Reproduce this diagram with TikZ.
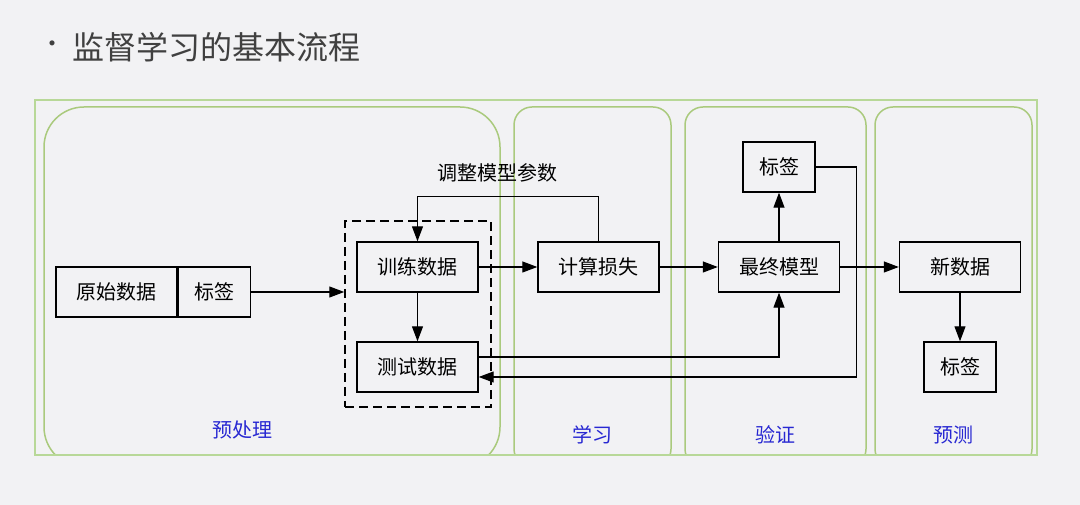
\documentclass[tikz,border=0pt]{standalone}
\usepackage{fontspec}
\usetikzlibrary{arrows.meta, positioning}
\newfontfamily\cjk{Noto Sans CJK SC}
\definecolor{bgcol}{RGB}{242,242,244}
\definecolor{lanecol}{RGB}{170,202,125}
\definecolor{framecol}{RGB}{184,216,152}
\definecolor{lanetext}{RGB}{40,40,210}
\definecolor{titlecol}{RGB}{64,64,64}

\begin{document}
\begin{tikzpicture}[x=1pt, y=1pt, node distance={100pt}, line width=1.2pt,
  >={Triangle[length=15pt,width=11pt]},
  main/.style={draw, line width=1.4pt, minimum width=121pt, minimum height=50pt, inner sep=0pt, font=\cjk\fontsize{20pt}{24pt}\selectfont},
  small/.style={main, minimum width=72pt},
  lane/.style={draw=lanecol, line width=1.5pt},
  lanelabel/.style={text=lanetext, font=\cjk\fontsize{20pt}{24pt}\selectfont}]
		\fill[bgcol] (0,0) rectangle (1080,505);
		
		% lanes
		\begin{scope}
			\clip (35,50) rectangle (1037,405);
			\draw[lane, rounded corners=40pt] (44,398) rectangle (500,38);
			\draw[lane, rounded corners=18pt] (514,398) rectangle (671,38);
			\draw[lane, rounded corners=18pt] (685,398) rectangle (866,38);
			\draw[lane, rounded corners=18pt] (875,398) rectangle (1032,38);
		\end{scope}
		\draw[framecol, line width=1.2pt] (35,50) rectangle (1037,405);
		
		\node[lanelabel] (pre) at (242,75) {预处理};
		\node[lanelabel] (learn) at (592,70) {学习};
		\node[lanelabel] (check) at (775,70) {验证};
		\node[lanelabel] (pred) at (953,70) {预测};
		
		% title
		\node[text=titlecol, font=\cjk\fontsize{24pt}{28pt}\selectfont] (dot) at (53,458) {·};
		\node[anchor=west, inner sep=0pt, text=titlecol, font=\cjk\fontsize{32pt}{36pt}\selectfont] (title) at (72,458) {监督学习的基本流程};
		
		% boxes
		\node[main] (raw) at (116.5,213) {原始数据};
		\node[small] (tag1) [right=0pt of raw] {标签};
		\node[draw, dashed, dash pattern=on 9pt off 5pt, line width=1.5pt, minimum width=146pt, minimum height=186pt] (grp) at (418,191) {};
		\node[main] (train) at (417.5,238) {训练数据};
		\node[main] (test) [below of = train] {测试数据};
		\node[main] (loss) at (598.5,238) {计算损失};
		\node[main] (final) at (779,238) {最终模型};
		\node[small] (tag2) [above of = final] {标签};
		\node[main] (new) at (960,238) {新数据};
		\node[small] (tag3) [below of = new] {标签};
		\node[font=\cjk\fontsize{20pt}{24pt}\selectfont] (adjust) at (497,332) {调整模型参数};
		
		\draw[->] (tag1.east) -- (tag1.east -| grp.west);
		\draw[->] (train) -- (test);
		\draw[->] (train) -- (loss);
		\draw[->] (loss) -- (final);
		\draw[->] (final) -- (new);
		\draw[->] (final) -- (tag2);
		\draw[->] (new) -- (tag3);
		\draw[->] (loss.north) -- ++(0,45) -| (train.north);
		\draw[->] ([yshift=10pt]test.east) -| (final.south);
		\draw[->] (tag2.east) -- ++(41,0) |- ([yshift=-10pt]test.east);
	\end{tikzpicture}
\end{document}
